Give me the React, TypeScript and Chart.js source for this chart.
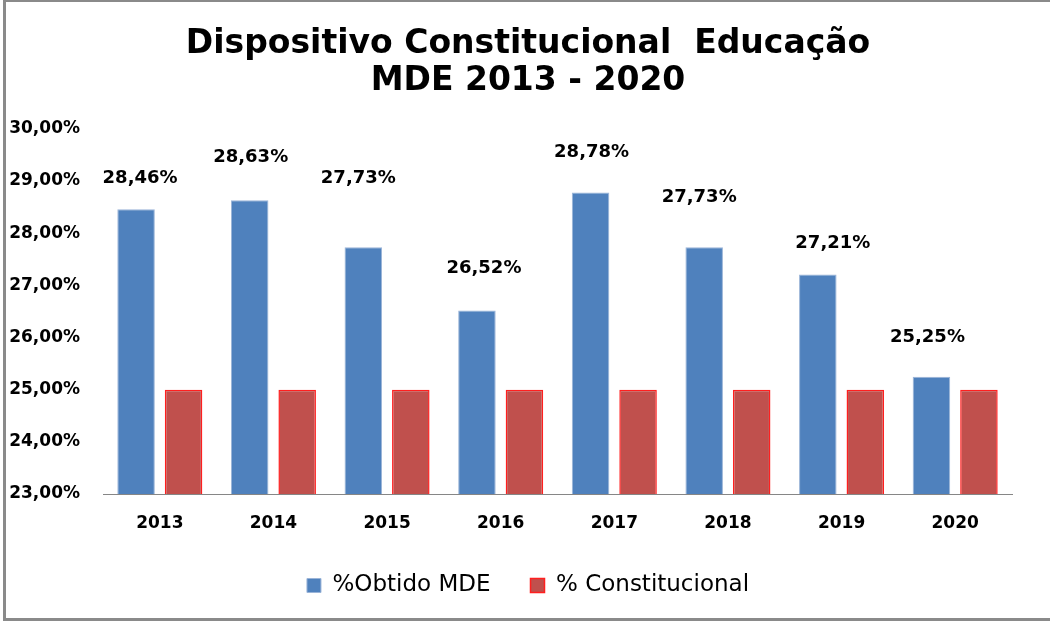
import React, { useEffect, useRef } from "react";
import { Chart, registerables } from "chart.js";

Chart.register(...registerables);

const categories = ["2013", "2014", "2015", "2016", "2017", "2018", "2019", "2020"];
const obtidoMDE = [28.46, 28.63, 27.73, 26.52, 28.78, 27.73, 27.21, 25.25];
const constitucional = [25, 25, 25, 25, 25, 25, 25, 25];
const seriesNames = ["%Obtido MDE", "% Constitucional"];
const titleLines = ["Dispositivo Constitucional  Educação", "MDE 2013 - 2020"];

// label placement nudges (px) relative to top of the blue bars, as in the original
const labelDx = [4, 1, -5, 7, 1, -5, 15, -4];
const labelDy = [31, 43, 69, 42, 40, 50, 31, 39];

const fmt = (v: number) => v.toFixed(2).replace(".", ",") + "%";

const labelPlugin = {
  id: "barLabels",
  afterDatasetsDraw(chart: any) {
    const ctx = chart.ctx;
    const meta = chart.getDatasetMeta(0);
    ctx.save();
    ctx.font = "bold 18px 'DejaVu Sans'";
    ctx.fillStyle = "#000";
    ctx.textAlign = "center";
    ctx.textBaseline = "middle";
    meta.data.forEach((bar: any, i: number) => {
      ctx.fillText(fmt(obtidoMDE[i]), bar.x + labelDx[i], bar.y - labelDy[i]);
    });
    ctx.restore();
  },
};

export default function App() {
  const ref = useRef<HTMLCanvasElement>(null);
  useEffect(() => {
    document.body.style.margin = "0";
    const chart = new Chart(ref.current!, {
      type: "bar",
      data: {
        labels: categories,
        datasets: [
          {
            label: seriesNames[0],
            data: obtidoMDE,
            backgroundColor: "#4F81BD",
            borderColor: "#9AB4D8",
            borderWidth: 1,
            categoryPercentage: 0.836,
            barPercentage: 0.79,
          },
          {
            label: seriesNames[1],
            data: constitucional,
            backgroundColor: "#C0504D",
            borderColor: "#FF1F1F",
            borderWidth: 1.5,
            categoryPercentage: 0.836,
            barPercentage: 0.79,
          },
        ],
      },
      options: {
        responsive: false,
        animation: false,
        layout: { padding: { left: 6, right: 0, top: 0, bottom: 17 } },
        plugins: {
          title: {
            display: true,
            text: titleLines,
            color: "#000",
            font: { family: "'DejaVu Sans'", weight: "bold", size: 33, lineHeight: 1.12 },
            padding: { top: 26, bottom: 29 },
          },
          legend: {
            position: "bottom",
            labels: {
              color: "#000",
              font: { family: "'DejaVu Sans'", size: 23 },
              boxWidth: 14,
              boxHeight: 14,
              padding: 40,
            },
          },
          tooltip: { enabled: false },
        },
        scales: {
          x: {
            grid: { display: false },
            border: { display: true, color: "#868686", width: 1 },
            ticks: {
              color: "#000",
              font: { family: "'DejaVu Sans'", weight: "bold", size: 17 },
              padding: 11,
            },
            afterFit: (scale: any) => {
              scale.height = 40;
            },
          },
          y: {
            min: 23,
            max: 30,
            grid: { display: false },
            border: { display: false },
            ticks: {
              stepSize: 1,
              color: "#000",
              font: { family: "'DejaVu Sans'", weight: "bold", size: 17 },
              padding: 15,
              callback: (v: any) => fmt(Number(v)),
            },
            afterFit: (scale: any) => {
              scale.width = 97;
            },
          },
          yRight: {
            position: "right",
            display: true,
            grid: { display: false },
            border: { display: false },
            ticks: { display: false },
            afterFit: (scale: any) => {
              scale.width = 38;
            },
          },
        },
      },
      plugins: [labelPlugin],
    });
    return () => chart.destroy();
  }, []);
  return (
    <div style={{ position: "relative", width: 1050, height: 624, background: "#fff" }}>
      <canvas ref={ref} width={1050} height={624} style={{ display: "block" }} />
      <div
        style={{
          position: "absolute",
          left: 3,
          top: 0,
          width: 1047,
          height: 621,
          borderLeft: "3px solid #8a8a8a",
          borderTop: "2px solid #8a8a8a",
          borderBottom: "3px solid #8a8a8a",
          boxSizing: "border-box",
          pointerEvents: "none",
        }}
      />
    </div>
  );
}
